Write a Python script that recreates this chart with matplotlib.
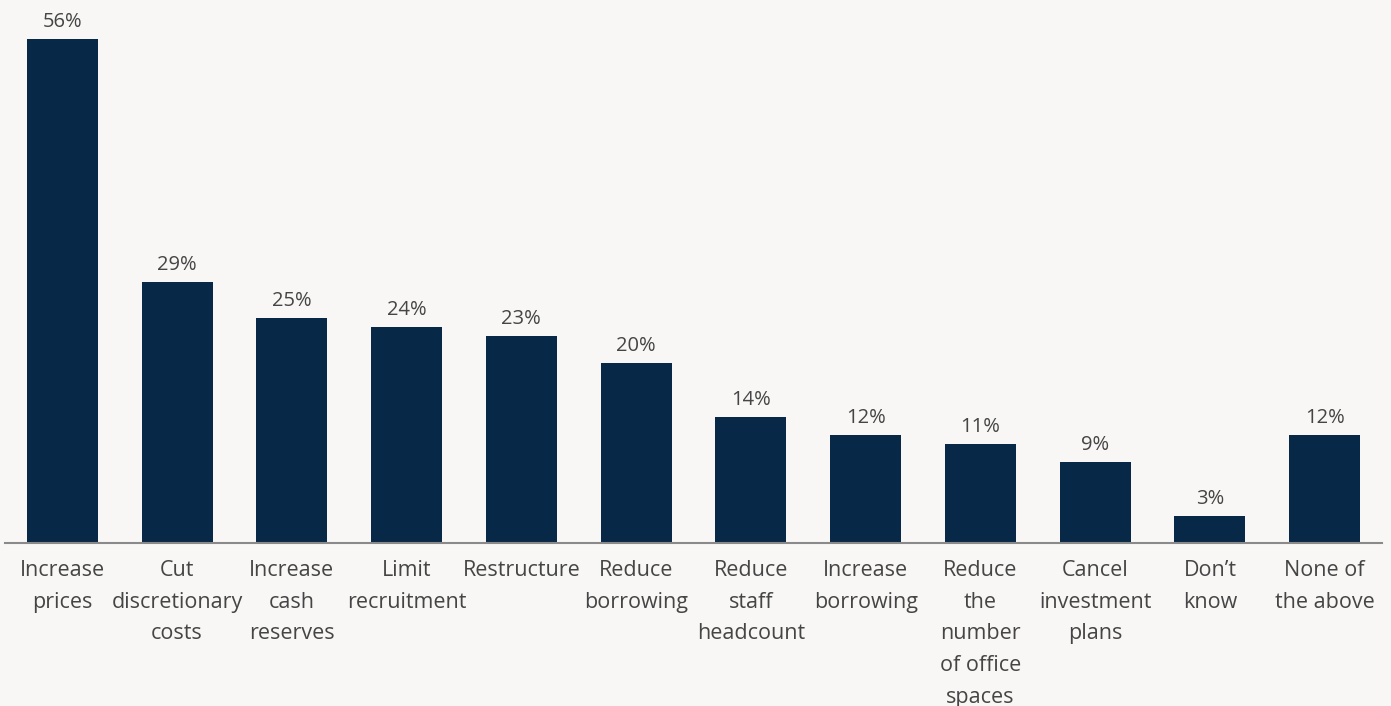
import matplotlib.pyplot as plt

categories = [
    "Increase\nprices",
    "Cut\ndiscretionary\ncosts",
    "Increase\ncash\nreserves",
    "Limit\nrecruitment",
    "Restructure",
    "Reduce\nborrowing",
    "Reduce\nstaff\nheadcount",
    "Increase\nborrowing",
    "Reduce\nthe\nnumber\nof office\nspaces",
    "Cancel\ninvestment\nplans",
    "Don\u2019t\nknow",
    "None of\nthe above",
]
shares = [56, 29, 25, 24, 23, 20, 14, 12, 11, 9, 3, 12]

BG = "#f8f7f5"
NAVY = "#082847"
TEXT = "#454545"


def main():
    plt.rcParams["font.family"] = ["Open Sans", "DejaVu Sans"]
    fig = plt.figure(figsize=(13.91, 7.06), dpi=100, facecolor=BG)
    ax = fig.add_axes([5 / 1391, 163 / 706, 1377 / 1391, 543 / 706])
    ax.set_facecolor(BG)

    x = range(len(categories))
    bars = ax.bar(x, shares, width=0.62, color=NAVY)
    for bar, v in zip(bars, shares):
        ax.annotate(f"{v}%", (bar.get_x() + bar.get_width() / 2, v),
                    xytext=(0, 5), textcoords="offset points",
                    ha="center", va="bottom", fontsize=14.5, color=TEXT)

    ax.set_xlim(-0.5, len(categories) - 0.5)
    ax.set_ylim(0, 60.3)
    ax.set_xticks(list(x))
    ax.set_xticklabels(categories, fontsize=15.5, color=TEXT,
                       linespacing=1.68, va="top")
    ax.tick_params(axis="x", length=0, pad=12)
    ax.set_yticks([])
    for side in ("top", "left", "right"):
        ax.spines[side].set_visible(False)
    ax.spines["bottom"].set_color("#8a8a8a")
    ax.spines["bottom"].set_linewidth(1.5)

    fig.savefig("out.png", dpi=100, facecolor=BG)


if __name__ == '__main__':
    main()
